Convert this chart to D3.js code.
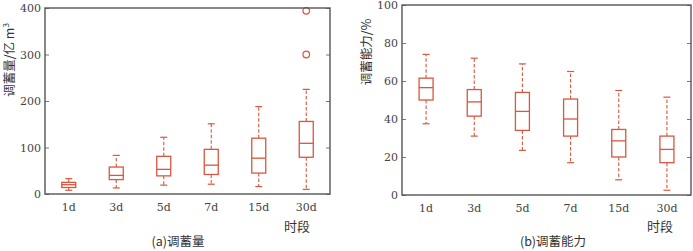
<!DOCTYPE html>
<html>
<head>
<meta charset="utf-8">
<script src="https://cdn.jsdelivr.net/npm/d3@7"></script>
<style>
  body { margin: 0; background: #fff; }
  .tick text { font-family: "DejaVu Serif", serif; font-size: 11px; fill: #444; }
  .cjk { font-family: "Noto Sans CJK SC", sans-serif; fill: #333; }
</style>
</head>
<body>
<svg id="chart" width="693" height="251"></svg>
<script>
const periods = ['1d', '3d', '5d', '7d', '15d', '30d'];

// (a) 调蓄量 / 亿 m3
const volLow = [8, 13, 19, 21, 16, 10];
const volQ1 = [14, 31, 39, 42, 45, 79];
const volMed = [20, 40, 53, 62, 77, 109];
const volQ3 = [25, 58, 81, 96, 120, 156];
const volHigh = [33, 83, 122, 151, 188, 225];
const volOutliers = [[], [], [], [], [], [300, 394]];
const volTicks = [0, 100, 200, 300, 400];

// (b) 调蓄能力 / %
const capLow = [37.5, 31, 23.5, 17, 8, 2.5];
const capQ1 = [50, 41.5, 34, 31, 20, 17];
const capMed = [56.5, 49, 44, 40, 28.5, 24];
const capQ3 = [61.5, 55.5, 54, 50.5, 34.5, 31];
const capHigh = [74, 72, 69, 65, 55, 51.5];
const capOutliers = [[], [], [], [], [], []];
const capTicks = [0, 20, 40, 60, 80, 100];

const boxColor = '#d8573f';
const frameColor = '#555';
const svg = d3.select('#chart');

function drawPanel(cfg) {
  const x = d3.scaleBand().domain(periods).range([cfg.left, cfg.right]).paddingInner(0).paddingOuter(0);
  const y = d3.scaleLinear().domain(cfg.domain).range([cfg.bottom, cfg.top]);
  const g = svg.append('g');
  const boxW = 14;
  const capW = 7;

  const rows = periods.map((p, i) => ({
    p, low: cfg.low[i], q1: cfg.q1[i], med: cfg.med[i], q3: cfg.q3[i], high: cfg.high[i], out: cfg.out[i]
  }));

  g.append('g')
    .attr('transform', `translate(${cfg.left},0)`)
    .call(d3.axisLeft(y).tickValues(cfg.ticks).tickSizeInner(-4).tickSizeOuter(0).tickPadding(4))
    .call((a) => a.select('.domain').remove())
    .call((a) => a.selectAll('.tick line').attr('stroke', '#777'));

  g.append('g')
    .attr('transform', `translate(${cfg.right},0)`)
    .call(d3.axisRight(y).tickValues(cfg.ticks).tickSizeInner(-4).tickSizeOuter(0).tickFormat(''))
    .call((a) => a.select('.domain').remove())
    .call((a) => a.selectAll('.tick line').attr('stroke', '#777'));

  g.append('g')
    .attr('transform', `translate(0,${cfg.bottom})`)
    .call(d3.axisBottom(x).tickSize(0).tickPadding(9))
    .call((a) => a.select('.domain').remove());

  const box = g.selectAll('.box').data(rows).join('g')
    .attr('class', 'box')
    .attr('transform', (d) => `translate(${x(d.p) + x.bandwidth() / 2},0)`);

  box.append('line')
    .attr('y1', (d) => y(d.q3)).attr('y2', (d) => y(d.high))
    .attr('stroke', boxColor).attr('stroke-width', 1.1).attr('stroke-dasharray', '3.5,2');
  box.append('line')
    .attr('y1', (d) => y(d.q1)).attr('y2', (d) => y(d.low))
    .attr('stroke', boxColor).attr('stroke-width', 1.1).attr('stroke-dasharray', '3.5,2');
  box.append('line')
    .attr('x1', -capW / 2).attr('x2', capW / 2)
    .attr('y1', (d) => y(d.high)).attr('y2', (d) => y(d.high))
    .attr('stroke', boxColor).attr('stroke-width', 1.2);
  box.append('line')
    .attr('x1', -capW / 2).attr('x2', capW / 2)
    .attr('y1', (d) => y(d.low)).attr('y2', (d) => y(d.low))
    .attr('stroke', boxColor).attr('stroke-width', 1.2);
  box.append('rect')
    .attr('x', -boxW / 2).attr('width', boxW)
    .attr('y', (d) => y(d.q3)).attr('height', (d) => y(d.q1) - y(d.q3))
    .attr('fill', '#fff').attr('stroke', boxColor).attr('stroke-width', 1.3);
  box.append('line')
    .attr('x1', -boxW / 2).attr('x2', boxW / 2)
    .attr('y1', (d) => y(d.med)).attr('y2', (d) => y(d.med))
    .attr('stroke', boxColor).attr('stroke-width', 1.3);
  box.selectAll('circle').data((d) => d.out).join('circle')
    .attr('cy', (v) => y(v)).attr('r', 3.3)
    .attr('fill', 'none').attr('stroke', boxColor).attr('stroke-width', 1.2);

  g.append('rect')
    .attr('x', cfg.left).attr('y', cfg.top)
    .attr('width', cfg.right - cfg.left).attr('height', cfg.bottom - cfg.top)
    .attr('fill', 'none').attr('stroke', frameColor).attr('stroke-width', 1.4);

  g.append('text').attr('class', 'cjk')
    .attr('transform', `translate(${cfg.titleX},${cfg.titleY}) rotate(-90)`)
    .attr('text-anchor', 'middle').attr('font-size', 12.5)
    .html(cfg.title);

  g.append('text').attr('class', 'cjk')
    .attr('x', cfg.xTitleX).attr('y', 231)
    .attr('text-anchor', 'middle').attr('font-size', 13)
    .text('时段');

  g.append('text').attr('class', 'cjk')
    .attr('x', cfg.captionX).attr('y', 246)
    .attr('text-anchor', 'middle').attr('font-size', 12.5)
    .text(cfg.caption);
}

drawPanel({
  left: 45, right: 330, top: 8, bottom: 194,
  domain: [0, 400], ticks: volTicks,
  low: volLow, q1: volQ1, med: volMed, q3: volQ3, high: volHigh, out: volOutliers,
  title: '调蓄量/亿 m<tspan font-size="8" dy="-5">3</tspan>', titleX: 14, titleY: 60,
  xTitleX: 297, caption: '(a)调蓄量', captionX: 178
});

drawPanel({
  left: 402, right: 691, top: 5, bottom: 195,
  domain: [0, 100], ticks: capTicks,
  low: capLow, q1: capQ1, med: capMed, q3: capQ3, high: capHigh, out: capOutliers,
  title: '调蓄能力/%', titleX: 371, titleY: 52,
  xTitleX: 660, caption: '(b)调蓄能力', captionX: 553
});
</script>
</body>
</html>
